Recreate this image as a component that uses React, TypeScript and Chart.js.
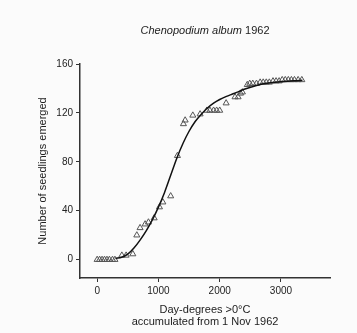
import React, { useEffect, useRef } from "react";
import { Chart, registerables } from "chart.js";

Chart.register(...registerables);

// Observed emergence (triangles)
const obsX = [0, 40, 80, 120, 160, 200, 250, 290, 403, 473, 582, 647, 700, 783, 837, 930, 1017, 1072, 1200, 1310, 1408, 1436, 1561, 1680, 1790, 1840, 1900, 1950, 2000, 2105, 2250, 2300, 2340, 2370, 2450, 2490, 2540, 2600, 2660, 2710, 2760, 2810, 2870, 2920, 2970, 3020, 3070, 3120, 3170, 3220, 3280, 3340];
const obsY = [0, 0, 0, 0, 0, 0, 0, 0, 3.5, 3.5, 4.6, 20, 26, 29, 30.6, 34, 43, 47, 52, 85, 111, 114, 118, 119, 122, 122, 122, 122, 122, 128, 133, 133, 136, 137, 143, 144, 144, 144, 145, 145, 145, 145, 146, 146, 146, 147, 147, 147, 147, 147, 147, 147];

// Fitted curve
const fitX = [300, 400, 500, 600, 700, 800, 900, 1000, 1100, 1200, 1300, 1400, 1500, 1600, 1700, 1800, 1900, 2000, 2100, 2200, 2300, 2400, 2600, 2800, 3000, 3200, 3350];
const fitY = [1, 2, 4.5, 9.5, 16, 23.5, 32.5, 43, 55, 69, 83, 95, 105, 113, 119, 124, 128, 131, 133.3, 135.3, 137.2, 139.3, 142.5, 144.5, 145.5, 146.3, 146.7];

const xTicks = [0, 1000, 2000, 3000];
const yTicks = [0, 40, 80, 120, 160];

const titleItalic = "Chenopodium album ";
const titleNormal = "1962";
const xTitle = ["Day-degrees >0°C", "accumulated from 1 Nov 1962"];
const yTitle = "Number of seedlings emerged";

const FONT = "'Liberation Sans', Arial, Helvetica, sans-serif";

export default function App() {
  const ref = useRef<HTMLCanvasElement | null>(null);
  useEffect(() => {
    const canvas = ref.current;
    if (!canvas) return;
    const bgPlugin = {
      id: "bg",
      beforeDraw(chart: any) {
        const ctx = chart.ctx;
        ctx.save();
        ctx.fillStyle = "#fbfbfb";
        ctx.fillRect(0, 0, chart.width, chart.height);
        ctx.restore();
      },
    };
    const titlePlugin = {
      id: "mixedTitle",
      afterDraw(chart: any) {
        const ctx = chart.ctx;
        ctx.save();
        ctx.fillStyle = "#222";
        ctx.textBaseline = "middle";
        ctx.font = `italic 11px ${FONT}`;
        const w1 = ctx.measureText(titleItalic).width;
        ctx.font = `11px ${FONT}`;
        const w2 = ctx.measureText(titleNormal).width;
        const cx = (chart.chartArea.left + chart.chartArea.right) / 2;
        const x0 = cx - (w1 + w2) / 2;
        ctx.textAlign = "left";
        ctx.font = `italic 11px ${FONT}`;
        ctx.fillText(titleItalic, x0, 31);
        ctx.font = `11px ${FONT}`;
        ctx.fillText(titleNormal, x0 + w1, 31);
        ctx.restore();
      },
    };
    const chart = new Chart(canvas, {
      type: "scatter",
      data: {
        datasets: [
          {
            data: fitX.map((x, i) => ({ x, y: fitY[i] })),
            showLine: true,
            borderColor: "#111",
            borderWidth: 1.5,
            pointRadius: 0,
            cubicInterpolationMode: "monotone",
            fill: false,
          } as any,
          {
            data: obsX.map((x, i) => ({ x, y: obsY[i] })),
            pointStyle: "triangle",
            pointRadius: 3.5,
            borderColor: "#555",
            backgroundColor: "rgba(0,0,0,0)",
            borderWidth: 1,
          },
        ],
      },
      options: {
        responsive: false,
        animation: false,
        layout: { padding: { left: 0, right: 27, top: 64, bottom: 0 } },
        plugins: { legend: { display: false }, tooltip: { enabled: false }, title: { display: false } },
        scales: {
          x: {
            type: "linear",
            min: -280,
            max: 3800,
            afterBuildTicks: (s: any) => {
              s.ticks = xTicks.map((v) => ({ value: v }));
            },
            afterFit: (s: any) => {
              s.height = 55;
            },
            grid: { drawOnChartArea: false, drawTicks: true, tickLength: 4, color: "#333" },
            border: { display: true, color: "#333", width: 1.5 },
            ticks: {
              color: "#222",
              font: { size: 10, family: FONT },
              padding: 3,
              maxRotation: 0,
              callback: (v: any) => String(v),
            },
            title: {
              display: true,
              text: xTitle,
              color: "#222",
              font: { size: 11, family: FONT, lineHeight: 1.1 },
              padding: { top: 0, bottom: 5 },
            },
          },
          y: {
            type: "linear",
            min: -15,
            max: 160,
            afterBuildTicks: (s: any) => {
              s.ticks = yTicks.map((v) => ({ value: v }));
            },
            afterFit: (s: any) => {
              s.width = 80;
            },
            grid: { drawOnChartArea: false, drawTicks: true, tickLength: 4, color: "#333" },
            border: { display: true, color: "#333", width: 1.5 },
            ticks: { color: "#222", font: { size: 10, family: FONT }, padding: 3, callback: (v: any) => String(v) },
            title: {
              display: true,
              text: yTitle,
              color: "#222",
              font: { size: 11, family: FONT, lineHeight: 1.2 },
              padding: { top: 36, bottom: 0 },
            },
          },
        },
      },
      plugins: [bgPlugin, titlePlugin],
    });
    return () => chart.destroy();
  }, []);
  return (
    <div style={{ position: "fixed", left: 0, top: 0, width: 357, height: 333, background: "#fbfbfb" }}>
      <canvas ref={ref} width={357} height={333} style={{ display: "block" }} />
    </div>
  );
}
